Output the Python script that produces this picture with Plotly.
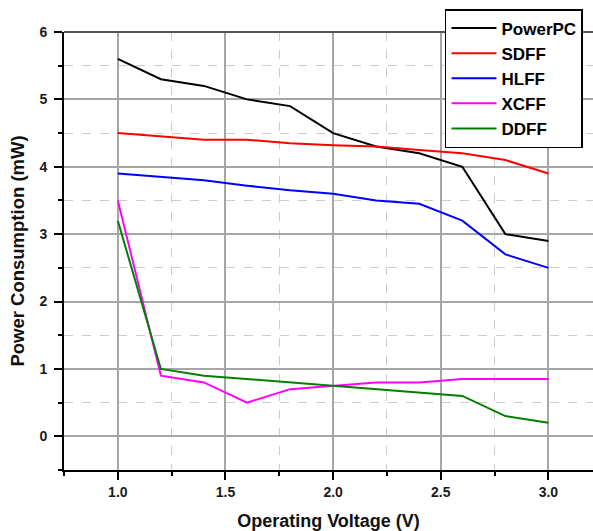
import plotly.graph_objects as go

voltage = [1.0, 1.2, 1.4, 1.6, 1.8, 2.0, 2.2, 2.4, 2.6, 2.8, 3.0]
powerpc = [5.6, 5.3, 5.2, 5.0, 4.9, 4.5, 4.3, 4.2, 4.0, 3.0, 2.9]
sdff = [4.5, 4.45, 4.4, 4.4, 4.35, 4.32, 4.3, 4.25, 4.2, 4.1, 3.9]
hlff = [3.9, 3.85, 3.8, 3.72, 3.65, 3.6, 3.5, 3.45, 3.2, 2.7, 2.5]
xcff = [3.5, 0.9, 0.8, 0.5, 0.7, 0.75, 0.8, 0.8, 0.85, 0.85, 0.85]
ddff = [3.2, 1.0, 0.9, 0.85, 0.8, 0.75, 0.7, 0.65, 0.6, 0.3, 0.2]

series = [
    ("PowerPC", powerpc, "#000000"),
    ("SDFF", sdff, "#ff0000"),
    ("HLFF", hlff, "#0000ff"),
    ("XCFF", xcff, "#ff00ff"),
    ("DDFF", ddff, "#008000"),
]

FONT = "Liberation Sans, Arial, sans-serif"

fig = go.Figure()
for name, vals, color in series:
    fig.add_trace(go.Scatter(x=voltage, y=vals, mode="lines", name=name,
                             line=dict(color=color, width=2)))

axis_common = dict(
    showgrid=True, gridcolor="#a6a6a6", gridwidth=1.5,
    zeroline=False, showline=True, linecolor="#000000", linewidth=2,
    ticks="outside", ticklen=8, tickwidth=1.5, tickcolor="#000000",
    tickfont=dict(family=FONT, size=14, color="#1a1a1a", weight="bold"),
)

fig.update_xaxes(
    range=[0.75, 3.207], tick0=1.0, dtick=0.5, tickformat=".1f",
    ticklabelstandoff=0,
    minor=dict(dtick=0.25, tick0=0.75, showgrid=True, gridcolor="#cccccc", griddash="dash",
               gridwidth=1, ticks="outside", ticklen=4, tickcolor="#000000"),
    title=dict(text="Operating Voltage (V)", font=dict(family=FONT, size=18, color="#111111", weight="bold"),
               standoff=16),
    **axis_common,
)
fig.update_yaxes(
    range=[-0.5, 6.0], tick0=0, dtick=1,
    ticklabelstandoff=4,
    minor=dict(dtick=0.5, tick0=0.5, showgrid=True, gridcolor="#cccccc", griddash="dash",
               gridwidth=1, ticks="outside", ticklen=4, tickcolor="#000000"),
    title=dict(text="Power Consumption (mW)", font=dict(family=FONT, size=18.5, color="#111111", weight="bold"),
               standoff=10),
    **axis_common,
)

fig.add_shape(type="line", xref="paper", yref="paper", x0=0, x1=1, y0=1, y1=1,
              line=dict(color="#555555", width=2))

fig.update_layout(
    width=593, height=531,
    margin=dict(l=64, r=0, t=32, b=61, autoexpand=False),
    plot_bgcolor="white", paper_bgcolor="white",
    font=dict(family=FONT),
    showlegend=True,
    legend=dict(
        x=0.7202, y=1.0525, xanchor="left", yanchor="top",
        bgcolor="white", bordercolor="#000000", borderwidth=1.5,
        font=dict(family=FONT, size=17, color="#000000", weight="bold"),
        itemwidth=45,
    ),
)

fig.write_html("out.html", config={"displayModeBar": False},
               post_script="document.body.style.margin='0';")
